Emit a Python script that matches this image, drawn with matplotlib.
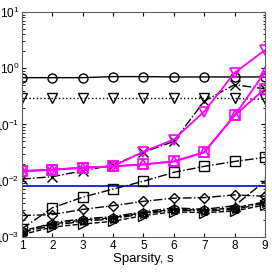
import matplotlib
matplotlib.use("Agg")
import matplotlib.pyplot as plt
from matplotlib.ticker import LogLocator, NullFormatter

plt.rcParams['font.family'] = ['Liberation Sans', 'DejaVu Sans']
plt.rcParams['mathtext.default'] = 'regular'

s = [1, 2, 3, 4, 5, 6, 7, 8, 9]
circ_solid = [0.68, 0.68, 0.68, 0.71, 0.71, 0.70, 0.70, 0.70, 0.70]
tri_dotted = [0.29, 0.29, 0.29, 0.29, 0.29, 0.29, 0.29, 0.29, 0.28]
x_dashdot = [0.0107, 0.0118, 0.015, 0.019, 0.032, 0.05, 0.26, 0.51, 0.43]
mag_tridown = [0.0148, 0.0157, 0.017, 0.018, 0.033, 0.054, 0.17, 0.83, 2.1]
mag_triup = [0.0148, 0.0157, 0.017, 0.018, 0.0195, 0.022, 0.032, 0.145, 0.85]
mag_square = [0.0148, 0.0157, 0.017, 0.018, 0.0195, 0.022, 0.032, 0.145, 0.43]
sq_dashdot = [0.0014, 0.0033, 0.0051, 0.0071, 0.0098, 0.0141, 0.018, 0.022, 0.026]
blue_solid = [0.0082, 0.0082, 0.0082, 0.0082, 0.0082, 0.0082, 0.0082, 0.0082, 0.0082]
diam_dashdot = [0.0024, 0.0025, 0.0031, 0.0036, 0.0043, 0.0049, 0.0050, 0.0056, 0.0053]
plus_dashdot = [0.0012, 0.0018, 0.0021, 0.0023, 0.0028, 0.0033, 0.0031, 0.0036, 0.0098]
triright_dash = [0.0011, 0.0015, 0.0017, 0.0019, 0.0024, 0.0028, 0.0027, 0.0029, 0.0037]
hex_dash = [0.0013, 0.0017, 0.0020, 0.0022, 0.0027, 0.0031, 0.0030, 0.0033, 0.0042]
pent_dash = [0.0012, 0.0016, 0.0019, 0.0021, 0.0026, 0.0030, 0.0029, 0.0031, 0.0040]

fig = plt.figure(figsize=(2.72, 2.73), dpi=100)
ax = fig.add_axes([0.081, 0.132, 0.893, 0.824])

ms = 6.5
lw = 1.0
kw = dict(markerfacecolor='none', markersize=ms, linewidth=lw, markeredgewidth=1.0)

ax.plot(s, blue_solid, '-', color='#0000ff', linewidth=1.2)
ax.plot(s, triright_dash, '--', color='k', marker='>', **kw)
ax.plot(s, pent_dash, '-.', color='k', marker='*', **kw)
ax.plot(s, hex_dash, '--', color='k', marker='h', **kw)
ax.plot(s, plus_dashdot, '-.', color='k', marker='+', **kw)
ax.plot(s, diam_dashdot, '-.', color='k', marker='D', markerfacecolor='none', markersize=5.5, linewidth=lw, markeredgewidth=1.0)
ax.plot(s, sq_dashdot, '-.', color='k', marker='s', **kw)
ax.plot(s, x_dashdot, '-.', color='k', marker='x', **kw)
ax.plot(s, tri_dotted, ':', color='k', marker='v', **kw)
ax.plot(s, circ_solid, '-', color='k', marker='o', **kw)
ax.plot(s, mag_square, '-', color='#ff00ff', marker='s', markerfacecolor='none', markersize=ms, linewidth=1.3, markeredgewidth=1.2)
ax.plot(s, mag_triup, '-', color='#ff00ff', marker='^', markerfacecolor='none', markersize=ms + 1, linewidth=1.3, markeredgewidth=1.2)
ax.plot(s, mag_tridown, '-', color='#ff00ff', marker='v', markerfacecolor='none', markersize=ms + 1, linewidth=1.3, markeredgewidth=1.2)

ax.set_yscale('log')
ax.set_xlim(1, 9)
ax.set_ylim(1e-3, 1e1)
ax.set_xticks(s)
ax.yaxis.set_major_locator(LogLocator(base=10, numticks=10))
ax.yaxis.set_minor_locator(LogLocator(base=10, subs=range(2, 10), numticks=20))
ax.yaxis.set_minor_formatter(NullFormatter())
ax.tick_params(which='both', direction='in', top=True, right=True, labelsize=8.5, pad=2)
ax.tick_params(which='major', length=3)
ax.tick_params(which='minor', length=1.8)
for sp in ax.spines.values():
    sp.set_color('#606060')
    sp.set_linewidth(0.8)
ax.set_xlabel('Sparsity, s', fontsize=9.5, labelpad=1)

fig.savefig('out.png', dpi=100)
